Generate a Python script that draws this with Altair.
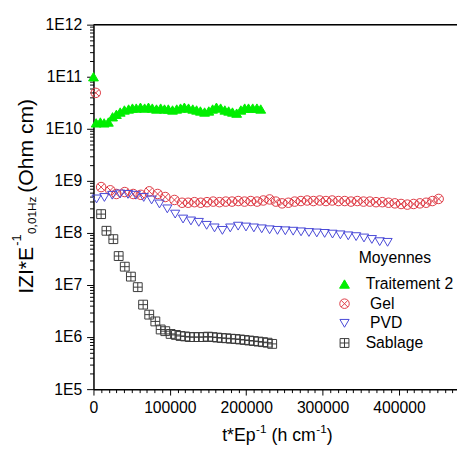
import altair as alt
import pandas as pd

FONT = "Liberation Sans"
SERIES = ["Traitement 2", "Gel", "PVD", "Sablage"]

# ---- data ----
t2_x = [0, 3500, 9000, 14000, 19500, 25000, 30000, 35000, 40500, 46000, 51000,
        56000, 61500, 67000, 72000, 77000, 82500, 88000, 93000, 98000, 103500,
        109000, 114000, 119000, 124500, 130000, 135000, 140000, 145500, 151000,
        156000, 161000, 166500, 172000, 177000, 182000, 187500, 193000, 198000,
        203000, 208500, 214000, 219000]
t2_z = [1.0e11, 1.3e10, 1.35e10, 1.3e10, 1.35e10, 1.7e10, 1.9e10, 2.1e10, 2.3e10,
        2.4e10, 2.5e10, 2.5e10, 2.6e10, 2.5e10, 2.6e10, 2.5e10, 2.4e10, 2.5e10,
        2.4e10, 2.4e10, 2.3e10, 2.4e10, 2.5e10, 2.6e10, 2.5e10, 2.4e10, 2.3e10,
        2.2e10, 2.1e10, 2.2e10, 2.4e10, 2.6e10, 2.5e10, 2.3e10, 2.2e10, 2.1e10,
        2.0e10, 2.3e10, 2.5e10, 2.5e10, 2.5e10, 2.5e10, 2.4e10]

gel_x = [3000, 10000, 22000, 30000, 41000, 52000, 62000, 73000, 84000, 94000,
         106000, 116000, 124000, 132200, 140400, 148600, 156800, 165000, 173200,
         181400, 189600, 197800, 206000, 214200, 222400, 230600, 238800, 247000,
         255200, 263400, 271600, 279800, 288000, 296200, 304400, 312600, 320800,
         329000, 337200, 345400, 353600, 361800, 370000, 378200, 386400, 394600,
         402800, 411000, 419200, 427400, 435600, 443800, 452000]
gel_z = [4.9e10, 7.6e8, 6.6e8, 5.6e8, 6.1e8, 5.6e8, 5.4e8, 6.3e8, 5.6e8, 4.9e8,
         4.3e8, 3.8e8, 3.8e8, 3.9e8, 3.8e8, 3.9e8, 4.0e8, 3.9e8, 4.0e8, 4.0e8,
         4.1e8, 4.0e8, 4.1e8, 4.0e8, 4.2e8, 4.4e8, 4.0e8, 3.7e8, 3.8e8, 4.0e8,
         4.1e8, 4.2e8, 4.1e8, 4.2e8, 4.1e8, 4.2e8, 4.1e8, 4.1e8, 4.0e8, 4.1e8,
         4.0e8, 4.0e8, 3.9e8, 3.9e8, 3.8e8, 3.7e8, 3.6e8, 3.5e8, 3.6e8, 3.7e8,
         3.8e8, 4.1e8, 4.5e8]

pvd_x = [4000, 14300, 24600, 34900, 45200, 55500, 65800, 76100, 86400, 96700,
         107000, 117300, 127600, 137900, 148200, 158500, 168800, 179100, 189400,
         199700, 210000, 220300, 230600, 240900, 251200, 261500, 271800, 282100,
         292400, 302700, 313000, 323300, 333600, 343900, 354200, 364500, 374800,
         385100]
pvd_z = [4.5e8, 4.8e8, 5.3e8, 5.6e8, 5.5e8, 5.3e8, 4.8e8, 4.3e8, 3.6e8, 2.9e8,
         2.3e8, 1.85e8, 1.7e8, 1.6e8, 1.4e8, 1.25e8, 1.12e8, 1.25e8, 1.35e8,
         1.3e8, 1.25e8, 1.2e8, 1.15e8, 1.12e8, 1.1e8, 1.08e8, 1.05e8, 1.02e8,
         1.0e8, 9.8e7, 9.5e7, 9.2e7, 8.8e7, 8.5e7, 8.0e7, 7.5e7, 6.8e7, 6.6e7]

sab_x = [10000, 17000, 26000, 33000, 41000, 49000, 58000, 65000, 73000, 81000,
         88000, 94000, 101000, 108000, 114000, 120000, 126000, 132000, 138000,
         144000, 150000, 156000, 162000, 168000, 174000, 180000, 186000, 192000,
         198000, 204000, 210000, 216000, 222000, 228000, 234000]
sab_z = [2.3e8, 1.1e8, 7.6e7, 3.6e7, 2.25e7, 1.45e7, 9.1e6, 4.2e6, 2.7e6, 2.0e6,
         1.4e6, 1.3e6, 1.15e6, 1.1e6, 1.05e6, 1.03e6, 1.0e6, 1.0e6, 1.0e6, 1.0e6,
         1.02e6, 1.0e6, 9.8e5, 9.6e5, 9.5e5, 9.3e5, 9.2e5, 9.0e5, 8.8e5, 8.6e5,
         8.4e5, 8.2e5, 8.0e5, 7.8e5, 7.4e5]

rows = []
for name, xs, zs in [("Traitement 2", t2_x, t2_z), ("Gel", gel_x, gel_z),
                     ("PVD", pvd_x, pvd_z), ("Sablage", sab_x, sab_z)]:
    for a, b in zip(xs, zs):
        rows.append({"serie": name, "t": a, "z": b})
df = pd.DataFrame(rows)

# ---- layout ----
W, H = 370, 371
X_MAX = 476000
x_ticks = list(range(0, 470001, 10000))
y_ticks = [m * 10 ** e for e in range(5, 12) for m in range(1, 10)] + [10 ** 12]

TRI_UP = "M0,-0.85L1,0.85L-1,0.85Z"
CIRC_X = ("M-1,0A1,1,0,1,1,1,0A1,1,0,1,1,-1,0"
          "M-0.707,-0.707L0.707,0.707M-0.707,0.707L0.707,-0.707")
TRI_DN = "M-1,-0.85L1,-0.85L0,0.85Z"
SQ_PLUS = "M-1,-1L1,-1L1,1L-1,1ZM0,-1L0,1M-1,0L1,0"

colors = ["#00ee00", "#dd3a44", "#4646d6", "#3a3a3a"]
fills = ["#00ee00", "transparent", "transparent", "transparent"]
shapes = [TRI_UP, CIRC_X, TRI_DN, SQ_PLUS]
sizes = [100, 81, 121, 72]

leg = alt.Legend(orient="none", legendX=247.5, legendY=256, title=None,
                 labelFontSize=16, labelFont=FONT, labelColor="black",
                 rowPadding=4, labelOffset=13.5, padding=0,
                 symbolStrokeWidth=1,
                 labelExpr="(datum.label == 'Gel' || datum.label == 'PVD') ? '\u200b\u00a0' + datum.label : datum.label")

x_major = "datum.value % 100000 === 0"
y_major = "abs(log(datum.value)/LN10 - round(log(datum.value)/LN10)) < 1e-6"

xaxis = alt.Axis(values=x_ticks, title=None, grid=False,
                 labelExpr=f"({x_major}) ? format(datum.value, 'd') : ''",
                 labelFontSize=16, labelFont=FONT, labelColor="black",
                 labelPadding=5, labelOverlap=False, labelFlush=False,
                 tickSize={"condition": {"test": x_major, "value": 6}, "value": 3.5},
                 tickColor="black", tickWidth=1, domainColor="black", domainWidth=1.5)
yaxis = alt.Axis(values=y_ticks, title=None, grid=False,
                 labelExpr=f"({y_major}) ? '1E' + round(log(datum.value)/LN10) : ''",
                 labelFontSize=16, labelFont=FONT, labelColor="black",
                 labelPadding=5, labelOverlap=False, labelFlush=False,
                 tickSize={"condition": {"test": y_major, "value": 7}, "value": 4},
                 tickColor="black", tickWidth=1, domainColor="black", domainWidth=1.5)

points = alt.Chart(df).mark_point(filled=False, opacity=1, strokeWidth=1).encode(
    x=alt.X("t:Q", scale=alt.Scale(domain=[0, X_MAX], nice=False, zero=False), axis=xaxis),
    y=alt.Y("z:Q", scale=alt.Scale(type="log", domain=[1e5, 1e12], nice=False), axis=yaxis),
    color=alt.Color("serie:N", scale=alt.Scale(domain=SERIES, range=colors), legend=leg),
    fill=alt.Fill("serie:N", scale=alt.Scale(domain=SERIES, range=fills), legend=leg),
    shape=alt.Shape("serie:N", scale=alt.Scale(domain=SERIES, range=shapes), legend=leg),
    size=alt.Size("serie:N", scale=alt.Scale(domain=SERIES, range=sizes), legend=leg),
)

one = alt.Data(values=[{"k": 0}])


def txt(s, x, y, size, angle=0, align="left", baseline="alphabetic"):
    return alt.Chart(one).mark_text(
        text=s, fontSize=size, font=FONT, angle=angle, align=align,
        baseline=baseline, color="black"
    ).encode(x=alt.value(x), y=alt.value(y))


top_line = alt.Chart(one).mark_rule(color="black", strokeWidth=1.5).encode(
    x=alt.value(0), x2=alt.value(W), y=alt.value(0))

texts = [
    # y title
    txt("IZI*E", -62, 274, 21.5, angle=270),
    txt("-1", -74, 225, 13, angle=270),
    txt("0,01Hz", -58, 213, 12, angle=270),
    txt("(Ohm cm)", -62, 171, 21.5, angle=270),
    # x title
    txt("t*Ep", 131, 424, 18),
    txt("-1", 165.5, 416, 12),
    txt("(h cm", 181.2, 424, 18),
    txt("-1", 226.7, 416, 12),
    txt(")", 237.4, 424, 18),
    # legend title
    txt("Moyennes", 270, 238, 16, baseline="middle"),
]

chart = alt.layer(points, top_line, *texts).properties(
    width=W, height=H,
    padding={"left": 87, "top": 13, "right": 0, "bottom": 60},
    autosize=alt.AutoSizeParams(type="none"),
).configure_view(stroke=None).configure(font=FONT)

chart.save("out.html", embed_options={"renderer": "svg", "actions": False})
